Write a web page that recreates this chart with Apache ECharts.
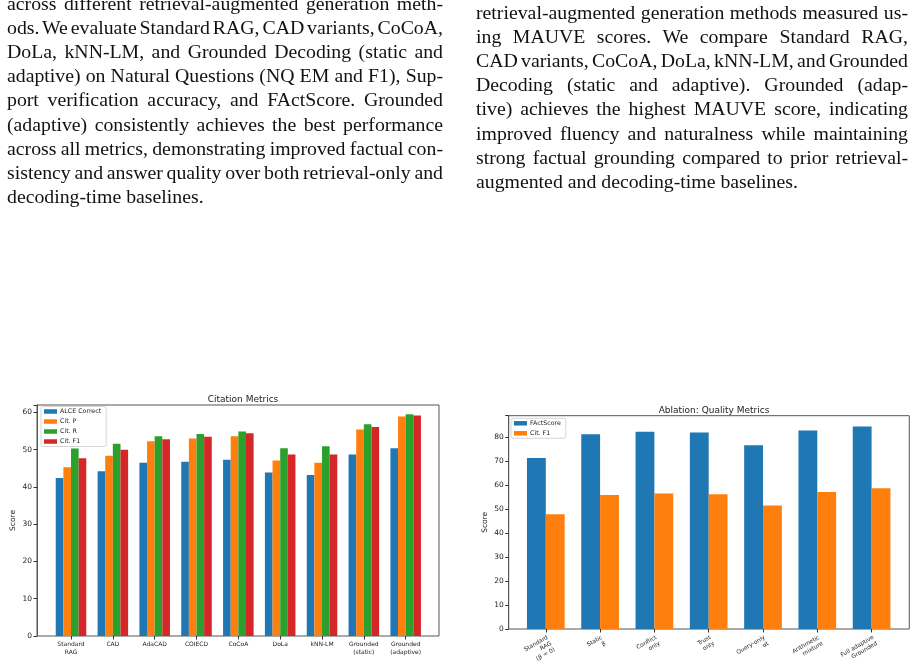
<!DOCTYPE html>
<html>
<head>
<meta charset="utf-8">
<script src="https://cdn.jsdelivr.net/npm/echarts@6/dist/echarts.min.js"></script>
<style>
  html, body { margin: 0; padding: 0; background: #fff; }
  .page { position: relative; width: 923px; height: 667px; overflow: hidden; }
  #chart { position: absolute; left: 0; top: 0; width: 923px; height: 667px; }
  .col { position: absolute; font-family: "Liberation Serif", serif; font-size: 19.8px; line-height: 24.2px; color: #111; }
  .col div { text-align: justify; text-align-last: justify; white-space: nowrap; height: 24.2px; word-spacing: -2.5px; }
  .col div.last { text-align-last: left; word-spacing: 0; }
  #leftCol { left: 7px; top: -9.4px; width: 436px; }
  #rightCol { left: 476px; top: -0.4px; width: 432px; }
</style>
</head>
<body>
<div class="page">
  <div id="chart"></div>
  <div class="col" id="leftCol"></div>
  <div class="col" id="rightCol"></div>
</div>
<script>
// paragraph lines
const leftLines = [
  "across different retrieval-augmented generation meth-",
  "ods. We evaluate Standard RAG, CAD variants, CoCoA,",
  "DoLa, kNN-LM, and Grounded Decoding (static and",
  "adaptive) on Natural Questions (NQ EM and F1), Sup-",
  "port verification accuracy, and FActScore.  Grounded",
  "(adaptive) consistently achieves the best performance",
  "across all metrics, demonstrating improved factual con-",
  "sistency and answer quality over both retrieval-only and",
  "decoding-time baselines."
];
const rightLines = [
  "retrieval-augmented generation methods measured us-",
  "ing MAUVE scores.  We compare Standard RAG,",
  "CAD variants, CoCoA, DoLa, kNN-LM, and Grounded",
  "Decoding (static and adaptive).  Grounded (adap-",
  "tive) achieves the highest MAUVE score, indicating",
  "improved fluency and naturalness while maintaining",
  "strong factual grounding compared to prior retrieval-",
  "augmented and decoding-time baselines."
];

// chart 1: Citation Metrics
const citationMethods = ["Standard\nRAG", "CAD", "AdaCAD", "COIECD", "CoCoA", "DoLa", "kNN-LM", "Grounded\n(static)", "Grounded\n(adaptive)"];
const alceCorrect = [42.4, 44.2, 46.5, 46.8, 47.3, 43.9, 43.2, 48.7, 50.4];
const citP = [45.3, 48.4, 52.3, 53.0, 53.6, 47.1, 46.5, 55.4, 58.9];
const citR = [50.3, 51.6, 53.6, 54.2, 54.9, 50.4, 50.9, 56.8, 59.5];
const citF1 = [47.7, 50.0, 52.8, 53.5, 54.4, 48.7, 48.7, 56.1, 59.2];

// chart 2: Ablation: Quality Metrics
const ablationVariants = ["Standard\nRAG\n(β = 0)", "Static\nβ", "Conflict\nonly", "Trust\nonly", "Query-only\nαt", "Arithmetic\nmixture", "Full adaptive\nGrounded"];
const factScore = [71.2, 81.1, 82.1, 81.8, 76.5, 82.6, 84.3];
const ablationCitF1 = [47.8, 55.8, 56.4, 56.1, 51.4, 57.0, 58.6];

function fillCol(id, lines) {
  const el = document.getElementById(id);
  lines.forEach((t, i) => {
    const d = document.createElement("div");
    d.textContent = t;
    if (i === lines.length - 1) d.className = "last";
    el.appendChild(d);
  });
}
fillCol("leftCol", leftLines);
fillCol("rightCol", rightLines);

const FONT = "DejaVu Sans";
const tab = ["#1f77b4", "#ff7f0e", "#2ca02c", "#d62728"];
const frameColor = "#555";

function valueAxis(grid, max, show) {
  return {
    type: "value", gridIndex: grid, min: 0, max: max, interval: 10, show: show,
    name: show ? "Score" : "", nameLocation: "middle", nameGap: 20,
    nameTextStyle: { fontFamily: FONT, fontSize: 7.5, color: "#222" },
    axisLine: { show: true, lineStyle: { color: frameColor, width: 1 } },
    axisTick: { show: true, length: 3.5, lineStyle: { color: "#333" } },
    axisLabel: {
      fontFamily: FONT, fontSize: 7.5, color: "#222", margin: 5,
      formatter: (v) => (v % 10 === 0 ? String(v) : "")
    },
    splitLine: { show: false }
  };
}

const chart = echarts.init(document.getElementById("chart"), null, { renderer: "canvas" });
chart.setOption({
  animation: false,
  title: [
    { text: "Citation Metrics", left: 238, top: 390, textAlign: "center",
      textStyle: { fontFamily: FONT, fontSize: 9, fontWeight: "normal", color: "#222" } },
    { text: "Ablation: Quality Metrics", left: 709, top: 401, textAlign: "center",
      textStyle: { fontFamily: FONT, fontSize: 9, fontWeight: "normal", color: "#222" } }
  ],
  legend: [
    {
      data: ["ALCE Correct", "Cit. P", "Cit. R", "Cit. F1"],
      orient: "vertical", left: 41, top: 406.5,
      icon: "rect", itemWidth: 13, itemHeight: 4.5, itemGap: 4,
      padding: [2, 5, 2, 3],
      borderColor: "#ccc", borderWidth: 0.8, borderRadius: 2, backgroundColor: "#fff",
      textStyle: { fontFamily: FONT, fontSize: 6.3, color: "#222", padding: [0, 0, 0, -2] }
    },
    {
      data: [{ name: "FActScore", itemStyle: { color: tab[0] } }, { name: "Cit. F1", itemStyle: { color: tab[1] } }],
      orient: "vertical", left: 511, top: 418.3,
      icon: "rect", itemWidth: 13, itemHeight: 4.5, itemGap: 4,
      padding: [2, 5, 2, 3],
      borderColor: "#ccc", borderWidth: 0.8, borderRadius: 2, backgroundColor: "#fff",
      textStyle: { fontFamily: FONT, fontSize: 6.3, color: "#222", padding: [0, 0, 0, -2] }
    }
  ],
  grid: [
    { left: 37, top: 405, width: 402, height: 231, show: true, borderColor: frameColor, borderWidth: 1 },
    { left: 50.1, top: 405, width: 376.5, height: 231 },
    { left: 508.7, top: 415.7, width: 400.6, height: 213.3, show: true, borderColor: frameColor, borderWidth: 1 },
    { left: 518.65, top: 415.7, width: 380.1, height: 213.3 }
  ],
  xAxis: [
    { type: "value", gridIndex: 0, min: 0, max: 1, show: false },
    {
      type: "category", gridIndex: 1, data: citationMethods,
      axisLine: { show: false },
      axisTick: { show: true, alignWithLabel: true, length: 3.5, lineStyle: { color: "#333" } },
      axisLabel: { interval: 0, fontFamily: FONT, fontSize: 6, lineHeight: 7.5, color: "#222", margin: 5 }
    },
    { type: "value", gridIndex: 2, min: 0, max: 1, show: false },
    {
      type: "category", gridIndex: 3, data: ablationVariants,
      axisLine: { show: false },
      axisTick: { show: true, alignWithLabel: true, length: 3.5, lineStyle: { color: "#333" } },
      axisLabel: { interval: 0, rotate: 30, align: "right", verticalAlign: "top", fontFamily: FONT, fontSize: 5.8, lineHeight: 7, color: "#222", margin: 5 }
    }
  ],
  yAxis: [
    valueAxis(0, 62, true),
    valueAxis(1, 62, false),
    valueAxis(2, 88.8, true),
    valueAxis(3, 88.8, false)
  ],
  series: [
    { name: "ALCE Correct", type: "bar", xAxisIndex: 1, yAxisIndex: 1, data: alceCorrect, itemStyle: { color: tab[0] }, barGap: "0%", barCategoryGap: "27%" },
    { name: "Cit. P", type: "bar", xAxisIndex: 1, yAxisIndex: 1, data: citP, itemStyle: { color: tab[1] } },
    { name: "Cit. R", type: "bar", xAxisIndex: 1, yAxisIndex: 1, data: citR, itemStyle: { color: tab[2] } },
    { name: "Cit. F1", type: "bar", xAxisIndex: 1, yAxisIndex: 1, data: citF1, itemStyle: { color: tab[3] } },
    { name: "FActScore", type: "bar", xAxisIndex: 3, yAxisIndex: 3, data: factScore, itemStyle: { color: tab[0] }, barGap: "0%", barCategoryGap: "30.6%" },
    { name: "Cit. F1", type: "bar", xAxisIndex: 3, yAxisIndex: 3, data: ablationCitF1, itemStyle: { color: tab[1] } }
  ]
});
</script>
</body>
</html>
